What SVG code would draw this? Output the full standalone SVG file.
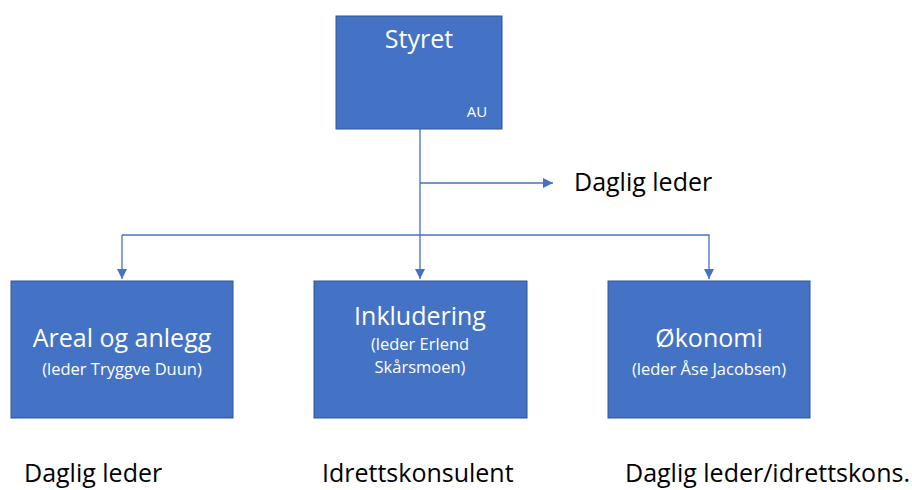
<svg xmlns="http://www.w3.org/2000/svg" width="912" height="490" viewBox="0 0 912 490">
<style>
.box{fill:#4472C4;stroke:#2F5597;stroke-width:1}
.t{font-family:"Open Sans","Liberation Sans",Arial,sans-serif;fill:#fff;text-anchor:middle}
.big{font-size:25px}
.sm{font-size:16.5px}
.lbl{font-family:"Open Sans","Liberation Sans",Arial,sans-serif;fill:#000;font-size:25px}
.ln{fill:none;stroke:#4472C4;stroke-width:1.3}
</style>
<defs>
<marker id="ah2" viewBox="0 0 10 10" refX="10" refY="5" markerWidth="10" markerHeight="10" markerUnits="userSpaceOnUse" orient="auto">
<path d="M0,0 L10,5 L0,10 z" fill="#4472C4"/>
</marker>
</defs>
<g id="connectors">
<path class="ln" d="M420,129 V279" marker-end="url(#ah2)"/>
<path class="ln" d="M420,183 H553" marker-end="url(#ah2)"/>
<path class="ln" d="M122,235 H709 V279" marker-end="url(#ah2)"/>
<path class="ln" d="M122,235 V279" marker-end="url(#ah2)"/>
</g>
<g id="styret">
<rect class="box" x="336" y="16" width="166" height="113"/>
<text class="t big" x="419" y="48">Styret</text>
<text class="t" x="477" y="117" font-size="15">AU</text>
</g>
<g id="areal">
<rect class="box" x="11" y="281" width="222" height="137"/>
<text class="t big" x="122" y="347">Areal og anlegg</text>
<text class="t sm" x="122" y="375">(leder Tryggve Duun)</text>
</g>
<g id="inkludering">
<rect class="box" x="314" y="281" width="213" height="137"/>
<text class="t big" x="420" y="325">Inkludering</text>
<text class="t sm" x="420" y="350">(leder Erlend</text>
<text class="t sm" x="420" y="373">Skårsmoen)</text>
</g>
<g id="okonomi">
<rect class="box" x="608" y="281" width="202" height="137"/>
<text class="t big" x="709" y="347">Økonomi</text>
<text class="t sm" x="709" y="375">(leder Åse Jacobsen)</text>
</g>
<g id="labels">
<text class="lbl" x="574" y="191">Daglig leder</text>
<text class="lbl" x="24" y="482">Daglig leder</text>
<text class="lbl" x="322" y="482">Idrettskonsulent</text>
<text class="lbl" x="625" y="482">Daglig leder/idrettskons.</text>
</g>
</svg>
